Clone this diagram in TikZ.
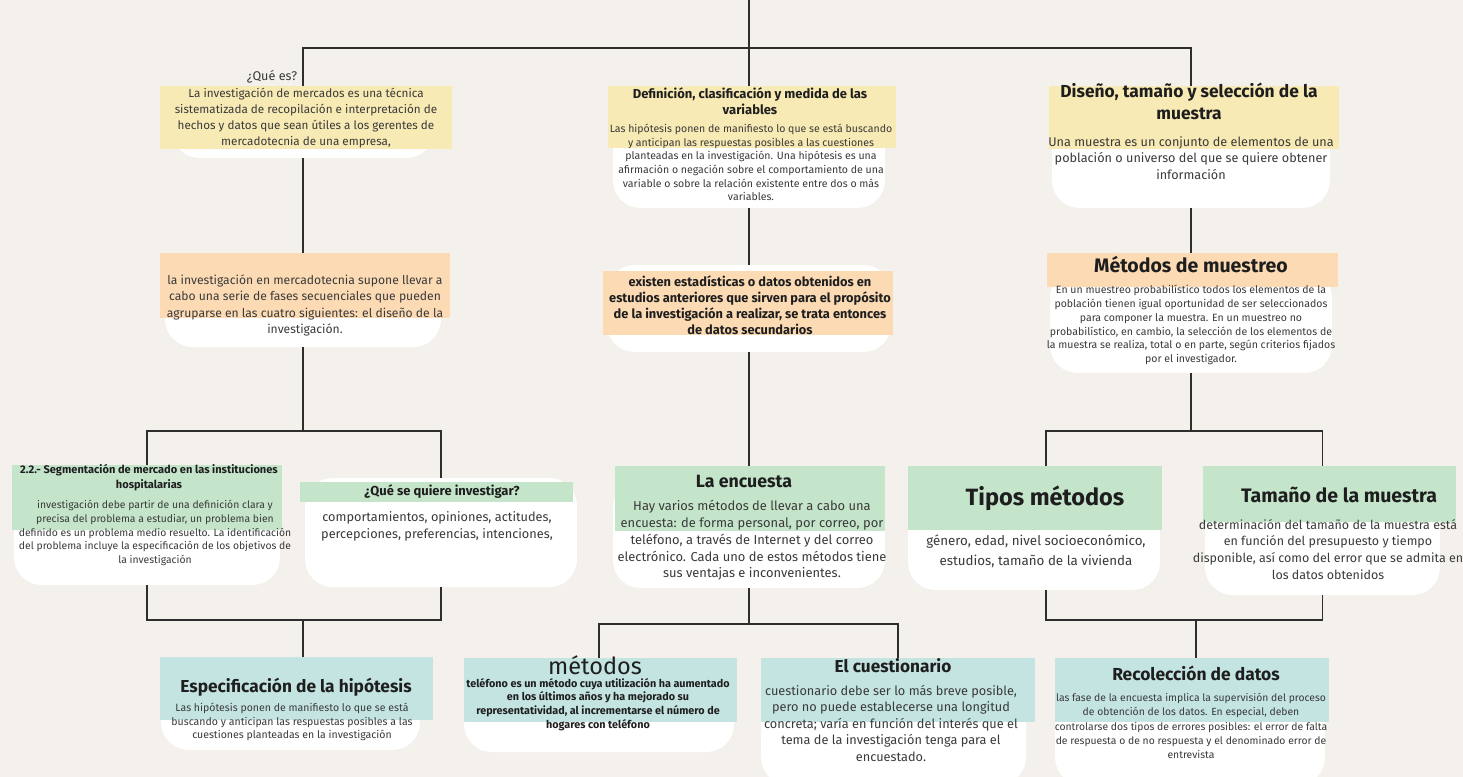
\documentclass[tikz,border=0pt]{standalone}
\usepackage{fontspec}
\setmainfont{Fira Sans}
\usepackage{tikz}
\usetikzlibrary{calc}

\definecolor{bgbeige}{HTML}{F4F0EB}
\definecolor{bandyellow}{HTML}{F8EAB4}
\definecolor{bandorange}{HTML}{FBDAB4}
\definecolor{bandgreen}{HTML}{C5E5CB}
\definecolor{bandteal}{HTML}{C4E4E2}
\definecolor{linegray}{HTML}{2E2E2E}
\definecolor{txtgray}{HTML}{3A3A3A}
\definecolor{ttlblack}{HTML}{1E1E1E}

\newcommand{\setfs}[2]{\fontsize{#1}{#2}\selectfont}

\tikzset{
    card/.style={fill=white, rounded corners=0.55cm, inner sep=0pt, outer sep=0pt},
    band/.style={inner sep=0pt, outer sep=0pt},
    yband/.style={band, fill=bandyellow},
    oband/.style={band, fill=bandorange},
    gband/.style={band, fill=bandgreen},
    tband/.style={band, fill=bandteal},
    txt/.style={align=center, inner sep=0pt, text=txtgray},
    ttl/.style={align=center, inner sep=0pt, text=ttlblack},
    link/.style={draw=linegray, line width=1.1pt}
}

\begin{document}
\begin{tikzpicture}[x=0.02cm, y=-0.02cm]
\fill[bgbeige] (0,0) rectangle (1463,777);
\useasboundingbox (0,0) rectangle (1463,777);

% white cards
\node[card, minimum width=5.24cm, minimum height=1.16cm] (w1) at (303,129) {};
\node[card, minimum width=5.44cm, minimum height=2.16cm] (w2) at (749,154) {};
\node[card, minimum width=5.56cm, minimum height=2.16cm] (w3) at (1191,154) {};
\node[card, minimum width=5.52cm, minimum height=1.54cm] (w4) at (303,308.5) {};
\node[card, minimum width=5.68cm, minimum height=1.74cm] (w5) at (749,308.5) {};
\node[card, minimum width=5.64cm, minimum height=2.06cm] (w6) at (1191,321.5) {};
\node[card, minimum width=5.32cm, minimum height=2.10cm] (w7) at (147,532.5) {};
\node[card, minimum width=5.44cm, minimum height=2.18cm] (w8) at (441,532.5) {};
\node[card, minimum width=5.44cm, minimum height=2.16cm] (w9) at (749,534) {};
\node[card, minimum width=5.04cm, minimum height=2.20cm] (w10) at (1034,535) {};
\node[card, minimum width=4.70cm, minimum height=2.30cm] (w11) at (1322.5,537.5) {};
\node[card, minimum width=5.18cm, minimum height=1.20cm] (w12) at (290.5,720) {};
\node[card, minimum width=5.40cm, minimum height=1.24cm] (w13) at (599,721) {};
\node[card, minimum width=5.30cm, minimum height=1.90cm] (w14) at (893.5,737.5) {};
\node[card, minimum width=5.40cm, minimum height=1.90cm] (w15) at (1190,737.5) {};

% coloured bands
\node[yband, minimum width=5.84cm, minimum height=1.26cm] (b1) at (306,117.5) {};
\node[yband, minimum width=5.76cm, minimum height=1.24cm] (b2) at (752,117) {};
\node[yband, minimum width=5.80cm, minimum height=1.26cm] (b3) at (1194,117.5) {};
\node[oband, minimum width=5.80cm, minimum height=1.30cm] (b4) at (305,285.5) {};
\node[oband, minimum width=5.80cm, minimum height=1.28cm] (b5) at (748,303) {};
\node[oband, minimum width=5.82cm, minimum height=0.68cm] (b6) at (1192.5,270) {};
\node[gband, minimum width=5.40cm, minimum height=1.30cm] (b7) at (147,497.5) {};
\node[gband, minimum width=5.46cm, minimum height=0.40cm] (b8) at (436.5,492) {};
\node[gband, minimum width=5.40cm, minimum height=1.30cm] (b9) at (750,498.5) {};
\node[gband, minimum width=5.08cm, minimum height=1.28cm] (b10) at (1035,498) {};
\node[gband, minimum width=5.06cm, minimum height=1.12cm] (b11) at (1329.5,494) {};
\node[tband, minimum width=5.46cm, minimum height=1.26cm] (b12) at (296.5,688.5) {};
\node[tband, minimum width=5.46cm, minimum height=1.28cm] (b13) at (600.5,690) {};
\node[tband, minimum width=5.48cm, minimum height=1.28cm] (b14) at (898,690) {};
\node[tband, minimum width=5.48cm, minimum height=1.28cm] (b15) at (1192,690) {};

% texts
\node[txt, font=\setfs{7.2}{8}] (qes) at (272,77) {¿Qué es?};
\node[txt, font=\setfs{6.65}{9.1}] (t1) at (306,118) {La investigación de mercados es una técnica\\sistematizada de recopilación e interpretación de\\hechos y datos que sean útiles a los gerentes de\\mercadotecnia de una empresa,};

\node[ttl, font=\setfs{7.4}{9.1}\bfseries] (h2) at (750,101) {Definición, clasificación y medida de las\\variables};
\node[txt, font=\setfs{6}{7.8}] (t2) at (751,162.5) {Las hipótesis ponen de manifiesto lo que se está buscando\\y anticipan las respuestas posibles a las cuestiones\\planteadas en la investigación. Una hipótesis es una\\afirmación o negación sobre el comportamiento de una\\variable o sobre la relación existente entre dos o más\\variables.};

\node[ttl, font=\setfs{9.9}{12.5}\bfseries] (h3) at (1189,101) {Diseño, tamaño y selección de la\\muestra};
\node[txt, font=\setfs{7.2}{9.4}] (t3) at (1191,158) {Una muestra es un conjunto de elementos de una\\población o universo del que se quiere obtener\\información};

\node[txt, font=\setfs{6.9}{9.2}] (t4) at (305,305.5) {la investigación en mercadotecnia supone llevar a\\cabo una serie de fases secuenciales que pueden\\agruparse en las cuatro siguientes: el diseño de la\\investigación.};

\node[ttl, font=\setfs{7.3}{9.1}\bfseries] (t5) at (750,305) {existen estadísticas o datos obtenidos en\\estudios anteriores que sirven para el propósito\\de la investigación a realizar, se trata entonces\\de datos secundarios};

\node[ttl, font=\setfs{11.1}{12}\bfseries] (h6) at (1191,265) {Métodos de muestreo};
\node[txt, font=\setfs{6}{7.9}] (t6) at (1191,325) {En un muestreo probabilístico todos los elementos de la\\población tienen igual oportunidad de ser seleccionados\\para componer la muestra. En un muestreo no\\probabilístico, en cambio, la selección de los elementos de\\la muestra se realiza, total o en parte, según criterios fijados\\por el investigador.};

\node[ttl, font=\setfs{6.3}{8.5}\bfseries] (h7) at (149,477.5) {2.2.- Segmentación de mercado en las instituciones\\hospitalarias};
\node[txt, font=\setfs{5.9}{7.8}] (t7) at (155,533) {investigación debe partir de una definición clara y\\precisa del problema a estudiar, un problema bien\\definido es un problema medio resuelto. La identificación\\del problema incluye la especificación de los objetivos de\\la investigación};

\node[ttl, font=\setfs{7.4}{8}\bfseries] (h8) at (442,492) {¿Qué se quiere investigar?};
\node[txt, font=\setfs{7.25}{9.6}] (t8) at (437,526.5) {comportamientos, opiniones, actitudes,\\percepciones, preferencias, intenciones,};

\node[ttl, font=\setfs{10.1}{11}\bfseries] (h9) at (744,481) {La encuesta};
\node[txt, font=\setfs{7.35}{9.5}] (t9) at (752,540.5) {Hay varios métodos de llevar a cabo una\\encuesta: de forma personal, por correo, por\\teléfono, a través de Internet y del correo\\electrónico. Cada uno de estos métodos tiene\\sus ventajas e inconvenientes.};

\node[ttl, font=\setfs{13.4}{14}\bfseries] (h10) at (1045,498) {Tipos métodos};
\node[txt, font=\setfs{7.6}{11.3}] (t10) at (1036,551) {género, edad, nivel socioeconómico,\\estudios, tamaño de la vivienda};

\node[ttl, font=\setfs{11.1}{12}\bfseries] (h11) at (1339,495) {Tamaño de la muestra};
\node[txt, font=\setfs{7.1}{9.6}] (t11) at (1328,549.5) {determinación del tamaño de la muestra está\\en función del presupuesto y tiempo\\disponible, así como del error que se admita en\\los datos obtenidos};

\node[ttl, font=\setfs{9.85}{10}\bfseries] (h12) at (296,687) {Especificación de la hipótesis};
\node[txt, font=\setfs{6}{7.9}] (t12) at (292,722) {Las hipótesis ponen de manifiesto lo que se está\\buscando y anticipan las respuestas posibles a las\\cuestiones planteadas en la investigación};

\node[ttl, font=\setfs{13.4}{14}] (h13) at (595,665) {métodos};
\node[ttl, font=\setfs{6.15}{7.8}\bfseries] (t13) at (598,704.5) {teléfono es un método cuya utilización ha aumentado\\en los últimos años y ha mejorado su\\representatividad, al incrementarse el número de\\hogares con teléfono};

\node[ttl, font=\setfs{9.8}{10}\bfseries] (h14) at (893,666) {El cuestionario};
\node[txt, font=\setfs{7.25}{9.4}] (t14) at (891,723) {cuestionario debe ser lo más breve posible,\\pero no puede establecerse una longitud\\concreta; varía en función del interés que el\\tema de la investigación tenga para el\\encuestado.};

\node[ttl, font=\setfs{9.9}{10}\bfseries] (h15) at (1196,673) {Recolección de datos};
\node[txt, font=\setfs{5.9}{8.2}] (t15) at (1191,726) {las fase de la encuesta implica la supervisión del proceso\\de obtención de los datos. En especial, deben\\controlarse dos tipos de errores posibles: el error de falta\\de respuesta o de no respuesta y el denominado error de\\entrevista};

% connectors
\coordinate (top) at (749,0);
\coordinate (bus0) at (749,48);
\coordinate (busL) at (303,431);
\coordinate (busR) at (1191,431);
\coordinate (top10) at (1046,466);
\coordinate (busL2) at (303,620);
\coordinate (busM2) at (749,624);
\coordinate (j13) at (599,624);
\coordinate (j14) at (898,624);
\coordinate (busR2) at (1196,620);

\draw[link] (top) -- (bus0);
\draw[link] (w1 |- b1.north) |- (bus0) -| (w3 |- b3.north);
\draw[link] (bus0) -- (w2 |- b2.north);
\draw[link] (w1.south) -- (w4 |- b4.north);
\draw[link] (w2.south) -- (w5.north);
\draw[link] (w3.south) -- (w6 |- b6.north);

\draw[link] (w4.south) -- (busL);
\draw[link] (w7 |- b7.north) |- (busL) -| (w8.north);
\draw[link] (w5.south) -- (w9 |- b9.north);
\draw[link] (w6.south) -- (busR);
\draw[link] (top10) |- (busR) -| (w11 |- b11.north);

\draw[link] (w7.south) |- (busL2) -| (w8.south);
\draw[link] (busL2) -- (busL2 |- b12.north);
\draw[link] (w9.south) -- (busM2);
\draw[link] (j13 |- b13.north) -- (j13) -- (j14) -- (j14 |- b14.north);
\draw[link] (top10 |- w10.south) |- (busR2) -| (w11.south);
\draw[link] (busR2) -- (busR2 |- b15.north);

\end{tikzpicture}
\end{document}
